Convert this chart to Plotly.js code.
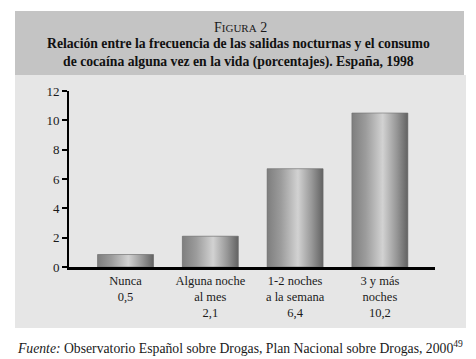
<!DOCTYPE html>
<html>
<head>
<meta charset="utf-8">
<script src="https://cdn.plot.ly/plotly-3.0.1.min.js"></script>
<style>html,body{margin:0;padding:0;background:#fff;}#chart{width:476px;height:359px;}</style>
</head>
<body>
<div id="chart"></div>
<script>
// Data
var categories = ["Nunca", "Alguna noche<br>al mes", "1-2 noches<br>a la semana", "3 y más<br>noches"];
var barValues = [0.85, 2.1, 6.7, 10.5];          // bar heights as drawn
var valueLabels = ["0,5", "2,1", "6,4", "10,2"];   // printed values
var yTicks = [0, 2, 4, 6, 8, 10, 12];

var FONT = "Liberation Serif, Times New Roman, serif";
var W = 476, H = 359;
var M = {l: 69, r: 41, t: 91, b: 92};
var PW = W - M.l - M.r, PH = H - M.t - M.b;
function px(x) { return (x - M.l) / PW; }
function py(y) { return (H - M.b - y) / PH; }

var barWidth = 0.66;
var tickText = categories.map(function (c, i) {
  return c + "<br>" + valueLabels[i];
});
var xIdx = categories.map(function (c, i) { return i; });

var traces = [{
  type: "bar",
  x: xIdx,
  y: barValues,
  width: barWidth,
  marker: {color: "#a6a6a6", line: {width: 0}},
  hoverinfo: "skip",
  showlegend: false
}];

var grad = [[0, "#7e7e7e"], [0.25, "#9c9c9c"], [0.55, "#d2d2d2"], [0.8, "#979797"], [1, "#626262"]];
barValues.forEach(function (v, i) {
  var x0 = i - barWidth / 2, x1 = i + barWidth / 2;
  traces.push({
    type: "scatter",
    mode: "lines",
    x: [x0, x1, x1, x0, x0],
    y: [0, 0, v, v, 0],
    fill: "toself",
    line: {width: 0.6, color: "#6e6e6e"},
    fillgradient: {type: "horizontal", start: x0, stop: x1, colorscale: grad},
    hoverinfo: "skip",
    showlegend: false
  });
});

var layout = {
  width: W, height: H,
  margin: M,
  paper_bgcolor: "#ffffff",
  plot_bgcolor: "rgba(0,0,0,0)",
  showlegend: false,
  font: {family: FONT, color: "#1a1a1a", size: 13},
  xaxis: {
    range: [-0.667, 3.65],
    tickvals: xIdx,
    ticktext: tickText,
    ticks: "",
    showgrid: false, zeroline: false,
    showline: true, linecolor: "#000", linewidth: 2.5,
    tickfont: {family: FONT, size: 12.5, color: "#1a1a1a"},
    fixedrange: true
  },
  yaxis: {
    range: [0, 12],
    tickvals: yTicks,
    ticks: "outside", ticklen: 5, tickwidth: 2, tickcolor: "#000",
    showgrid: false, zeroline: false,
    showline: true, linecolor: "#000", linewidth: 2,
    tickfont: {family: FONT, size: 13, color: "#1a1a1a"},
    fixedrange: true
  },
  shapes: [
    {type: "rect", xref: "paper", yref: "paper", layer: "below",
     x0: px(15), x1: px(466), y0: py(328), y1: py(75),
     fillcolor: "#e6e6e6", line: {width: 0}},
    {type: "rect", xref: "paper", yref: "paper", layer: "below",
     x0: px(15), x1: px(464), y0: py(75), y1: py(11),
     fillcolor: "#c4c4c4", line: {width: 0}}
  ],
  annotations: [
    {xref: "paper", yref: "paper", x: px(240), y: py(27), xanchor: "center", yanchor: "middle",
     showarrow: false, font: {family: FONT, size: 14, color: "#1a1a1a"},
     text: "F<span style=\"font-size:11px\">IGURA</span> 2"},
    {xref: "paper", yref: "paper", x: px(238), y: py(52.5), xanchor: "center", yanchor: "middle",
     showarrow: false, font: {family: FONT, size: 13.7, color: "#111"},
     text: "<b>Relación entre la frecuencia de las salidas nocturnas y el consumo<br>de cocaína alguna vez en la vida (porcentajes). España, 1998</b>"},
    {xref: "paper", yref: "paper", x: px(15), y: py(347), xanchor: "left", yanchor: "middle",
     showarrow: false, font: {family: FONT, size: 13.7, color: "#1a1a1a"},
     text: "<i>Fuente:</i> Observatorio Español sobre Drogas, Plan Nacional sobre Drogas, 2000<sup>49</sup>"}
  ]
};

Plotly.newPlot("chart", traces, layout, {staticPlot: true, displayModeBar: false});
</script>
</body>
</html>
